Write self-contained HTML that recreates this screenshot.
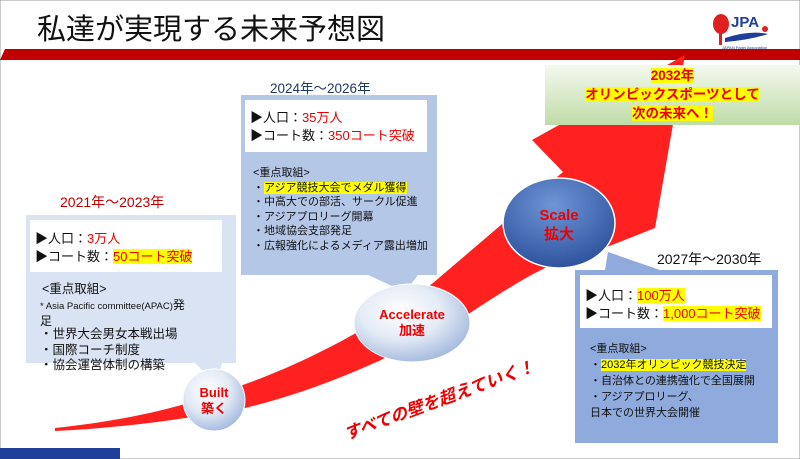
<!DOCTYPE html>
<html><head><meta charset="utf-8"><style>
*{margin:0;padding:0;box-sizing:border-box}
body{width:800px;height:459px;overflow:hidden;background:#fff;font-family:"Liberation Sans","Noto Sans CJK JP",sans-serif;position:relative}
.a{position:absolute;white-space:nowrap}
.r{color:#e00}
.hl{background:#ffff00}
.it{font-size:11px;line-height:14.5px;color:#111}
.pop{font-size:13px;line-height:18px;color:#111}
</style></head><body>
<svg class="a" style="left:0;top:0" width="800" height="459">
<defs>
<radialGradient id="g1" cx="0.4" cy="0.35" r="0.7"><stop offset="0" stop-color="#fff"/><stop offset="0.5" stop-color="#e4ebf6"/><stop offset="1" stop-color="#9fb6dc"/></radialGradient>
<radialGradient id="g2" cx="0.45" cy="0.3" r="0.75"><stop offset="0" stop-color="#6f95d6"/><stop offset="1" stop-color="#2a4f9a"/></radialGradient>
<linearGradient id="gg" x1="0" y1="0" x2="0" y2="1"><stop offset="0" stop-color="#f4f9ee"/><stop offset="1" stop-color="#bfdca8"/></linearGradient>
</defs>
<rect x="0" y="0" width="800" height="459" fill="none" stroke="#999" stroke-width="1"/>
<polygon points="5,49 800,49 800,60 0,60" fill="#c00000"/>
<rect x="0" y="448" width="120" height="11" fill="#1f3f9a"/>
<rect x="26" y="215" width="210" height="148" fill="#dae3f3"/>
<polygon points="195,363 222,363 217,385" fill="#dae3f3"/>
<rect x="241" y="95" width="196" height="180" fill="#b4c7e7"/>
<polygon points="368,275 418,275 405,292" fill="#b4c7e7"/>
<rect x="575" y="270" width="203" height="173" fill="#8faadc"/>
<polygon points="605,270 660,270 608,252" fill="#8faadc"/>
<path d="M55,428 C150,418 200,400 240,386 C300,365 370,330 433,283 L563,172 L532,140 L685,55 L655,228 L612,245 L545,268 C520,280 490,300 470,313 C400,355 320,390 245,408 C180,420 120,428 55,431 Z" fill="#ff2020"/>
<rect x="545" y="65" width="255" height="60" fill="url(#gg)"/>
<rect x="30" y="220" width="192" height="52" fill="#fff"/>
<rect x="245" y="100" width="182" height="52" fill="#fff"/>
<rect x="580" y="275" width="192" height="53" fill="#fff"/>
<ellipse cx="214" cy="400" rx="31" ry="31" fill="url(#g1)" stroke="#fff"/>
<ellipse cx="412" cy="323" rx="58" ry="39" fill="url(#g1)" stroke="#fff"/>
<ellipse cx="559" cy="223" rx="56" ry="45" fill="url(#g2)" stroke="#fff" stroke-width="1.5"/>
<ellipse cx="721" cy="24" rx="8" ry="10" fill="#e02020"/>
<rect x="719" y="33" width="3" height="12" fill="#e02020"/>
<path d="M725,38 Q750,30 768,34 Q750,40 725,42Z" fill="#1f3f9a"/>
<circle cx="765" cy="29" r="3" fill="#e02020"/>
</svg>
<div class="a" style="left:37px;top:6px;font-size:29px;color:#111">私達が実現する未来予想図</div>
<div class="a" style="left:731px;top:14px;font-size:15px;font-weight:bold;color:#1f3f9a">JPA</div>
<div class="a" style="left:722px;top:45px;font-size:4px;color:#1f3f9a">JAPAN Padel Association</div>

<div class="a" style="left:545px;top:66px;width:255px;text-align:center;font-size:13.5px;line-height:19px;font-weight:bold;color:#e00"><span class="hl">2032年</span><br><span class="hl">オリンピックスポーツとして</span><br><span class="hl">次の未来へ！</span></div>

<div class="a" style="left:270px;top:77px;font-size:13.5px;color:#1f3864">2024年～2026年</div>
<div class="a pop" style="left:250px;top:109px">▶人口：<span class="r">35万人</span><br>▶コート数：<span class="r">350コート突破</span></div>
<div class="a it" style="left:253px;top:166px">&lt;重点取組&gt;<br>・<span class="hl">アジア競技大会でメダル獲得</span><br>・中高大での部活、サークル促進<br>・アジアプロリーグ開幕<br>・地域協会支部発足<br>・広報強化によるメディア露出増加</div>

<div class="a" style="left:60px;top:192px;font-size:14px;color:#c00000">2021年～2023年</div>
<div class="a pop" style="left:35px;top:230px">▶人口：<span class="r">3万人</span><br>▶コート数：<span class="r hl">50コート突破</span></div>
<div class="a" style="left:42px;top:280px;font-size:12.5px;line-height:18px;color:#111">&lt;重点取組&gt;</div>
<div class="a" style="left:40px;top:298px;font-size:9.5px;line-height:14px;color:#111">* Asia Pacific committee(APAC)<span style="font-size:12px">発</span><br><span style="font-size:12px">足</span></div>
<div class="a" style="left:40px;top:327px;font-size:12.5px;line-height:15.5px;color:#111">・世界大会男女本戦出場<br>・国際コーチ制度<br>・協会運営体制の構築</div>

<div class="a" style="left:657px;top:249px;font-size:14px;color:#111">2027年～2030年</div>
<div class="a pop" style="left:585px;top:287px">▶人口：<span class="r hl">100万人</span><br>▶コート数：<span class="r hl">1,000コート突破</span></div>
<div class="a it" style="left:590px;top:341px;line-height:16px">&lt;重点取組&gt;<br>・<span class="hl">2032年オリンピック競技決定</span><br>・自治体との連携強化で全国展開<br>・アジアプロリーグ、<br>日本での世界大会開催</div>

<div class="a" style="left:184px;top:385px;width:60px;text-align:center;font-size:13px;line-height:16px;font-weight:bold;color:#e00">Built<br>築く</div>
<div class="a" style="left:357px;top:307px;width:110px;text-align:center;font-size:13px;line-height:16px;font-weight:bold;color:#e00">Accelerate<br>加速</div>
<div class="a" style="left:503px;top:206px;width:112px;text-align:center;font-size:15px;line-height:19px;font-weight:bold;color:#e00">Scale<br>拡大</div>

<div class="a" style="left:338px;top:386px;font-size:17px;font-weight:bold;font-style:italic;color:#e00;transform:rotate(-20deg);transform-origin:center">すべての壁を超えていく！</div>
</body></html>
